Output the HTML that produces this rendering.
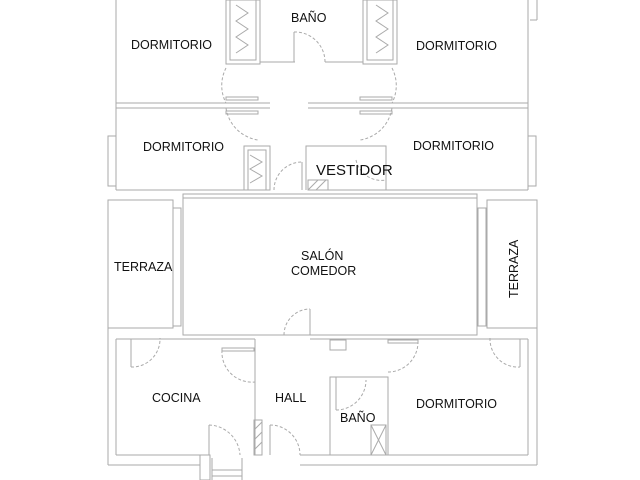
<!DOCTYPE html>
<html><head><meta charset="utf-8"><style>
html,body{margin:0;padding:0;background:#fff}
svg{display:block}
text{font-family:"Liberation Sans",sans-serif;font-size:12.5px;fill:#111}
</style></head><body>
<svg width="640" height="480" viewBox="0 0 640 480" xmlns="http://www.w3.org/2000/svg">
<g fill="none" stroke="#aaa" stroke-width="1">
<line x1="116" y1="0" x2="116" y2="190"/>
<line x1="528" y1="0" x2="528" y2="190"/>
<line x1="537" y1="0" x2="537" y2="20"/>
<line x1="530" y1="20" x2="537" y2="20"/>
<rect x="108" y="136" width="8" height="50"/>
<rect x="528" y="136" width="8" height="50"/>
<line x1="116" y1="103" x2="270" y2="103"/>
<line x1="116" y1="108" x2="270" y2="108"/>
<line x1="308" y1="103" x2="528" y2="103"/>
<line x1="308" y1="108" x2="528" y2="108"/>
<rect x="226" y="0" width="34" height="64"/>
<rect x="230" y="0" width="26" height="60"/>
<rect x="363" y="0" width="34" height="64"/>
<rect x="367" y="0" width="26" height="60"/>
<path d="M236 5 l12 8 l-12 8 l12 8 l-12 8 l12 8 l-12 8 M376 5 l12 8 l-12 8 l12 8 l-12 8 l12 8 l-12 8"/>
<line x1="260" y1="0" x2="260" y2="62"/>
<line x1="260" y1="62" x2="295" y2="62"/>
<line x1="325" y1="62" x2="363" y2="62"/>
<line x1="294" y1="32" x2="294" y2="62"/>
<path d="M294 32 A30 30 0 0 1 325 62" stroke-dasharray="3 2"/>
<path d="M226 68 A38 38 0 0 0 226 103 M226 108 A38 38 0 0 0 258 140 M392 68 A38 38 0 0 1 392 103 M392 108 A38 38 0 0 1 360 140" stroke-dasharray="3 2"/>
<rect x="226" y="97" width="32" height="3"/>
<rect x="226" y="111" width="32" height="3"/>
<rect x="360" y="97" width="32" height="3"/>
<rect x="360" y="111" width="32" height="3"/>
<line x1="116" y1="190" x2="270" y2="190"/>
<line x1="308" y1="190" x2="528" y2="190"/>
<rect x="244" y="146" width="26" height="44"/>
<rect x="248" y="150" width="18" height="40"/>
<path d="M250 155 l12 7 l-12 7 l12 7 l-12 7"/>
<path d="M274 190 A28 28 0 0 1 302 162" stroke-dasharray="3 2"/>
<line x1="302" y1="162" x2="302" y2="190"/>
<polyline points="306,190 306,146 386,146 386,190"/>
<rect x="308" y="180" width="20" height="10"/>
<path d="M308 190 l10 -10 M316 190 l10 -10" />
<path d="M356 160 A26 26 0 0 0 386 180" stroke-dasharray="3 2"/>
<rect x="183" y="194" width="294" height="141"/>
<line x1="183" y1="198" x2="477" y2="198"/>
<rect x="108" y="200" width="65" height="128"/>
<rect x="173" y="208" width="8" height="118"/>
<rect x="487" y="200" width="50" height="128"/>
<rect x="478" y="208" width="8" height="118"/>
<path d="M284 335 A26 26 0 0 1 310 309" stroke-dasharray="3 2"/>
<line x1="310" y1="309" x2="310" y2="335"/>
<line x1="108" y1="328" x2="108" y2="465"/>
<line x1="537" y1="328" x2="537" y2="465"/>
<line x1="116" y1="339" x2="116" y2="455"/>
<line x1="528" y1="339" x2="528" y2="455"/>
<line x1="108" y1="465" x2="200" y2="465"/>
<line x1="300" y1="465" x2="537" y2="465"/>
<line x1="116" y1="455" x2="210" y2="455"/>
<line x1="300" y1="455" x2="528" y2="455"/>
<line x1="116" y1="339" x2="255" y2="339"/>
<line x1="310" y1="339" x2="528" y2="339"/>
<path d="M131 367 A28 28 0 0 0 160 338 M490 338 A28 28 0 0 0 520 367" stroke-dasharray="3 2"/>
<line x1="131" y1="339" x2="131" y2="367"/>
<line x1="520" y1="339" x2="520" y2="367"/>
<line x1="255" y1="339" x2="255" y2="455"/>
<line x1="209" y1="425" x2="209" y2="455"/>
<path d="M209 425 A32 32 0 0 1 240 455" stroke-dasharray="3 2"/>
<rect x="254" y="420" width="8" height="35"/>
<path d="M254 430 l8 -8 M254 440 l8 -8 M254 450 l8 -8"/>
<path d="M222 350 A30 30 0 0 0 255 382" stroke-dasharray="3 2"/>
<rect x="222" y="348" width="32" height="3"/>
<line x1="270" y1="425" x2="270" y2="455"/>
<path d="M270 425 A30 30 0 0 1 300 455" stroke-dasharray="3 2"/>
<polyline points="330,455 330,377 388,377 388,455"/>
<line x1="336" y1="377" x2="336" y2="410"/>
<path d="M336 410 A30 30 0 0 0 366 380" stroke-dasharray="3 2"/>
<rect x="371" y="425" width="15" height="30"/>
<path d="M371 425 L386 455 M386 425 L371 455"/>
<path d="M388 372 A30 30 0 0 0 418 342" stroke-dasharray="3 2"/>
<rect x="388" y="340" width="30" height="3"/>
<rect x="330" y="340" width="16" height="10"/>
<rect x="200" y="455" width="10" height="25"/>
<path d="M212 470 h30 M212 476 h30"/>
<line x1="212" y1="458" x2="212" y2="480"/>
<line x1="242" y1="458" x2="242" y2="480"/>
</g>
<text x="131" y="49">DORMITORIO</text>
<text x="291" y="22">BAÑO</text>
<text x="416" y="50">DORMITORIO</text>
<text x="143" y="151">DORMITORIO</text>
<text x="413" y="150">DORMITORIO</text>
<text x="316" y="175" style="font-size:15px">VESTIDOR</text>
<text x="114" y="271">TERRAZA</text>
<text x="301" y="260">SALÓN</text>
<text x="291" y="275">COMEDOR</text>
<text transform="translate(518,298) rotate(-90)">TERRAZA</text>
<text x="152" y="402">COCINA</text>
<text x="275" y="402">HALL</text>
<text x="340" y="422">BAÑO</text>
<text x="416" y="408">DORMITORIO</text>
</svg>
</body></html>
